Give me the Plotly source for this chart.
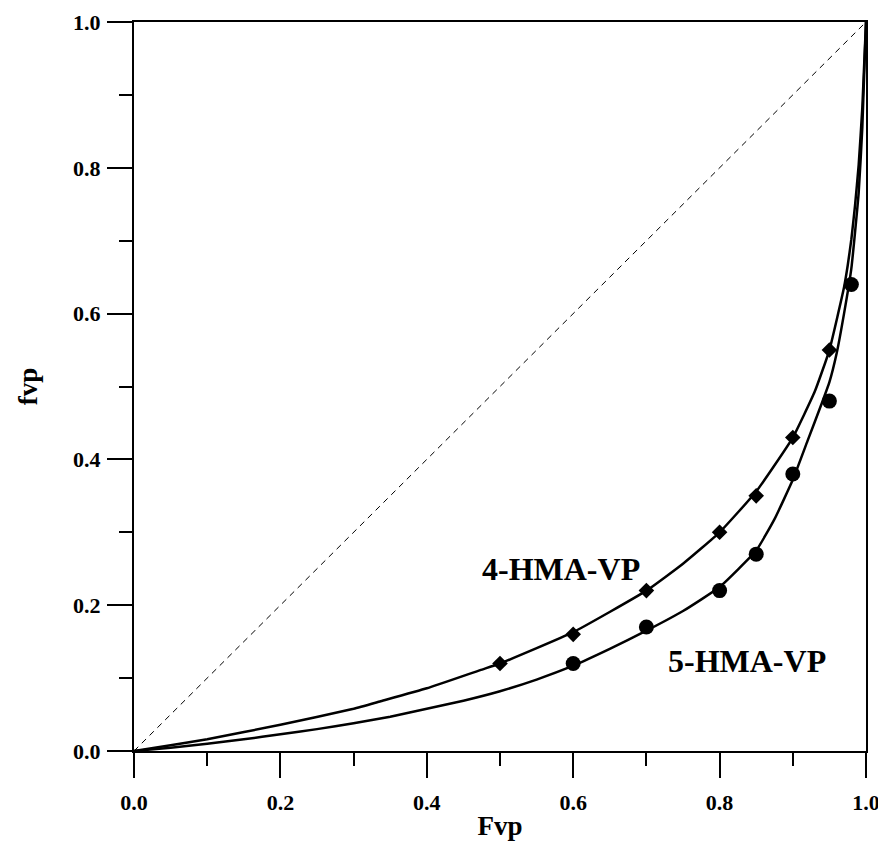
import plotly.graph_objects as go

# Fitted curves
curve4_x = [0, 0.05, 0.10, 0.20, 0.30, 0.336, 0.40, 0.473, 0.50, 0.60, 0.70, 0.75, 0.80, 0.85, 0.90,
            0.93, 0.95, 0.97, 0.975, 0.98, 0.985, 0.99, 0.995, 1.0]
curve4_y = [0, 0.008, 0.016, 0.036, 0.058, 0.068, 0.086, 0.111, 0.120, 0.163, 0.220, 0.257, 0.300, 0.356, 0.430,
            0.493, 0.550, 0.636, 0.666, 0.702, 0.748, 0.804, 0.883, 1.0]

curve5_x = [0, 0.05, 0.10, 0.15, 0.20, 0.25, 0.30, 0.35, 0.40, 0.45, 0.50, 0.55, 0.60, 0.65, 0.70, 0.75,
            0.80, 0.85, 0.875, 0.90, 0.92, 0.94, 0.95, 0.96, 0.97, 0.98, 0.99, 0.995, 1.0]
curve5_y = [0, 0.0045, 0.010, 0.016, 0.023, 0.030, 0.038, 0.047, 0.058, 0.069, 0.082, 0.098, 0.117, 0.140,
            0.165, 0.192, 0.225, 0.275, 0.318, 0.372, 0.425, 0.478, 0.506, 0.546, 0.600, 0.662, 0.766, 0.856, 1.0]

# Experimental points
hma4_x = [0.5, 0.6, 0.7, 0.8, 0.85, 0.9, 0.95]
hma4_y = [0.12, 0.16, 0.22, 0.30, 0.35, 0.43, 0.55]
hma5_x = [0.6, 0.7, 0.8, 0.85, 0.9, 0.95, 0.98]
hma5_y = [0.12, 0.17, 0.22, 0.27, 0.38, 0.48, 0.64]

diag_x = [0, 1]
diag_y = [0, 1]

tick_vals = [0.0, 0.2, 0.4, 0.6, 0.8, 1.0]
tick_text = ["0.0", "0.2", "0.4", "0.6", "0.8", "1.0"]

FONT = "Liberation Serif"

fig = go.Figure()
fig.add_trace(go.Scatter(x=diag_x, y=diag_y, mode="lines",
                         line=dict(color="black", width=1, dash="6px,5px"), showlegend=False))
fig.add_trace(go.Scatter(x=curve4_x, y=curve4_y, mode="lines",
                         line=dict(color="black", width=2.5, shape="spline", smoothing=0.4),
                         showlegend=False))
fig.add_trace(go.Scatter(x=curve5_x, y=curve5_y, mode="lines",
                         line=dict(color="black", width=2.5, shape="spline", smoothing=0.4),
                         showlegend=False))
fig.add_trace(go.Scatter(x=hma4_x, y=hma4_y, mode="markers",
                         marker=dict(symbol="diamond", size=12, color="black"), showlegend=False))
fig.add_trace(go.Scatter(x=hma5_x, y=hma5_y, mode="markers",
                         marker=dict(symbol="circle", size=15, color="black"), showlegend=False))

fig.add_annotation(x=0.583, y=0.25, xref="x", yref="y",
                   text="4-HMA-VP", showarrow=False,
                   font=dict(family=FONT, size=32, color="black", weight="bold"))
fig.add_annotation(x=0.837, y=0.123, xref="x", yref="y",
                   text="5-HMA-VP", showarrow=False,
                   font=dict(family=FONT, size=32, color="black", weight="bold"))

axis_common = dict(
    range=[0, 1], tickvals=tick_vals, ticktext=tick_text,
    ticks="outside", ticklen=25, tickwidth=2, tickcolor="black",
    minor=dict(ticks="outside", ticklen=13, tickwidth=2, tickcolor="black", dtick=0.1, tick0=0),
    showline=True, linewidth=2, linecolor="black", mirror=True,
    showgrid=False, zeroline=False, automargin=False, ticklabeloverflow="allow",
    tickfont=dict(family=FONT, size=22, color="black", weight="bold"),
)

fig.update_xaxes(**axis_common, ticklabelstandoff=6,
                 title=dict(text="Fvp", font=dict(family=FONT, size=27, color="black", weight="bold"),
                            standoff=2))
fig.update_yaxes(**axis_common, ticklabelstandoff=2,
                 title=dict(text="fvp", font=dict(family=FONT, size=27, color="black", weight="bold"),
                            standoff=28))

fig.update_layout(
    width=878, height=844,
    margin=dict(l=134, r=12, t=22, b=93),
    paper_bgcolor="white", plot_bgcolor="white",
)

fig.write_html("out.html")
